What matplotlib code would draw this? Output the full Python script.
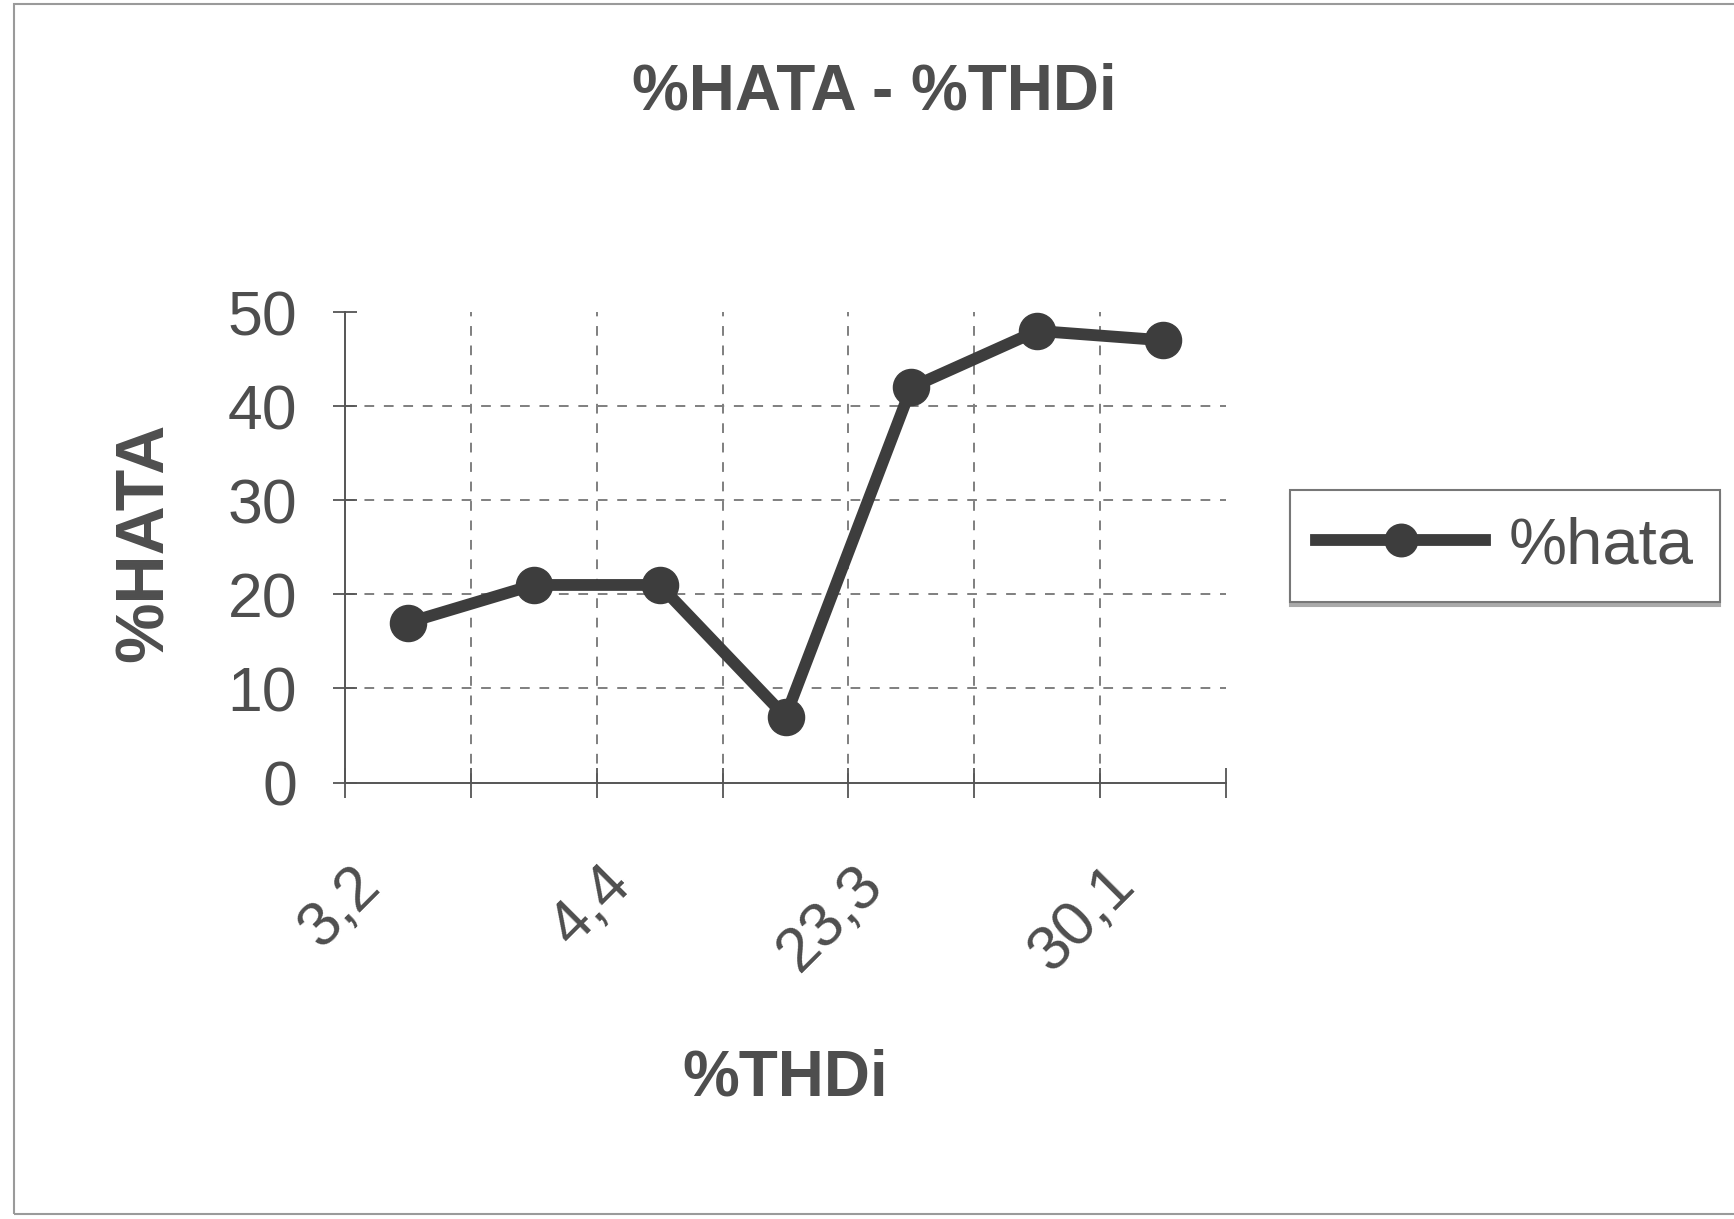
import numpy as np
import matplotlib
matplotlib.use("Agg")
import matplotlib.pyplot as plt
from matplotlib.transforms import ScaledTranslation
from matplotlib.patches import Rectangle

## Data
thd_labels = ['3,2', '', '4,4', '', '23,3', '', '30,1']  # only every other label is shown
hata = [17, 21, 21, 7, 42, 48, 47]
y_ticks = [0, 10, 20, 30, 40, 50]

plt.rcParams['font.family'] = ['Liberation Sans', 'DejaVu Sans']
txt = '#4e4e4e'
line_c = '#3d3d3d'

fig = plt.figure(figsize=(17.34, 12.19), dpi=100)
ax = fig.add_axes([0.199, 0.358, 0.508, 0.386])

x = np.arange(1, len(hata) + 1)
ax.plot(x, hata, color=line_c, lw=8.5, marker='o', ms=26,
        mfc=line_c, mec=line_c, label='%hata', zorder=3)

## axes
ax.set_xlim(0.5, len(hata) + 0.5)
ax.set_ylim(0, 50)
ax.set_yticks(y_ticks)
ax.set_xticks(np.arange(0.5, len(hata) + 1, 1.0))
ax.set_xticklabels([])
ax.set_xticks(x, minor=True)
ax.set_xticklabels(thd_labels, minor=True, rotation=45, ha='right', va='top',
                   rotation_mode='anchor', fontsize=45, color=txt)

ax.tick_params(axis='y', which='major', direction='inout', length=17, width=1.3,
               color='#555555', labelsize=45, labelcolor=txt, pad=26)
ax.tick_params(axis='x', which='major', direction='inout', length=22, width=1.3,
               color='#555555')
ax.tick_params(axis='x', which='minor', length=0, pad=52)

shift = ScaledTranslation(-42 / 72, 0, fig.dpi_scale_trans)
for lab in ax.get_xticklabels(minor=True):
    lab.set_transform(lab.get_transform() + shift)

for s in ['top', 'right']:
    ax.spines[s].set_visible(False)
for s in ['left', 'bottom']:
    ax.spines[s].set_color('#555555')
    ax.spines[s].set_linewidth(1.4)

## dashed grid, nothing on the borders
ax.grid(True, which='major', color='#7f7f7f', lw=1.4, linestyle=(0, (5, 5)))
gx = ax.xaxis.get_gridlines()
gx[0].set_visible(False)
gx[-1].set_visible(False)
gy = ax.yaxis.get_gridlines()
gy[0].set_visible(False)
gy[-1].set_visible(False)

## texts
fig.text(0.504, 0.924, '%HATA - %THDi', ha='center', va='center',
         fontsize=46, fontweight='bold', color=txt)
ax.set_ylabel('%HATA', fontsize=49, fontweight='bold', color=txt)
ax.yaxis.set_label_coords(-0.191, 0.51)
ax.set_xlabel('%THDi', fontsize=46, fontweight='bold', color=txt, va='top')
ax.xaxis.set_label_coords(0.5, -0.566)

leg = ax.legend(loc='center', bbox_to_anchor=(0.868, 0.552),
                bbox_transform=fig.transFigure, fontsize=47, frameon=True,
                fancybox=False, handlelength=2.58, handletextpad=0.37,
                borderpad=0.4, markerscale=0.9, labelcolor=txt,
                shadow={'ox': 0, 'oy': -3, 'color': '#aaaaaa', 'alpha': 1})
leg.get_frame().set_edgecolor('#777777')
leg.get_frame().set_linewidth(1.5)

## outer chart border from the scan
fig.patches.append(Rectangle((0.008, 0.004), 1.2, 0.993, transform=fig.transFigure,
                             fill=False, edgecolor='#9a9a9a', lw=1.5))

fig.savefig('out.png', dpi=100)
